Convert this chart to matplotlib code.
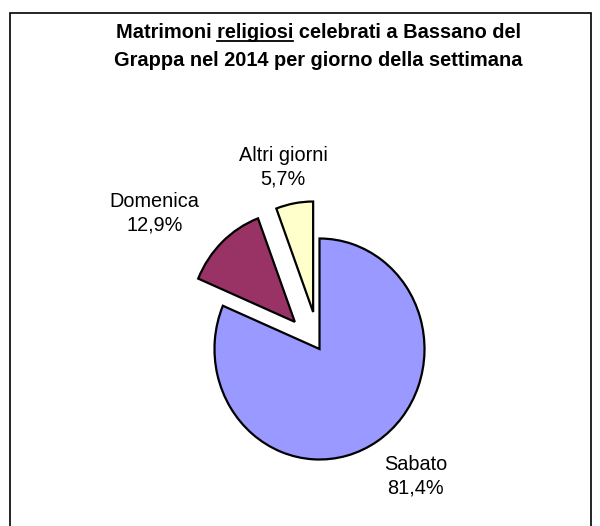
import matplotlib
matplotlib.use("Agg")
import matplotlib.pyplot as plt
from matplotlib.patches import Rectangle
from matplotlib.lines import Line2D
import numpy as np

plt.rcParams['font.family'] = ['Liberation Sans', 'DejaVu Sans']

# dati
giorni = ['Sabato', 'Domenica', 'Altri giorni']
quote = [81.4, 12.9, 5.7]
etichette_pct = ['81,4%', '12,9%', '5,7%']
colori = ['#9999FF', '#993366', '#FFFFCC']

titolo_1 = 'Matrimoni religiosi celebrati a Bassano del'
titolo_2 = 'Grappa nel 2014 per giorno della settimana'
sottolineato = 'religiosi'

# stile / layout
esplodi = [0, 0.34, 0.34]
dist_lab = [1.47, 1.66, 1.34]
shift_lab = [5, 10, 2]
fs_tit = 14.4
fs_lab = 14.3

W, H = 600, 526
fig = plt.figure(figsize=(W / 100, H / 100), dpi=100)
ax = fig.add_axes([0, 0, 1, 1])

cx, cy = 319.5, 349
rx, ry = 105, 110.5

wedges, _ = ax.pie(quote, colors=colori, explode=esplodi, startangle=90,
                   counterclock=False,
                   wedgeprops=dict(edgecolor='black', linewidth=1.6))
ax.set_aspect('auto')
ax.set_xlim(-cx / rx, (W - cx) / rx)
ax.set_ylim(-(H - cy) / ry, cy / ry)
ax.axis('off')

for w, g, p, d, s in zip(wedges, giorni, etichette_pct, dist_lab, shift_lab):
    ang = np.deg2rad((w.theta1 + w.theta2) / 2 + s)
    x = w.center[0] + d * np.cos(ang)
    y = w.center[1] + d * np.sin(ang)
    ax.text(x, y, g + '\n' + p, ha='center', va='center', fontsize=fs_lab,
            linespacing=1.3)

# titolo
t1 = fig.text(318 / W, 1 - 32.5 / H, titolo_1, ha='center', va='center',
              fontsize=fs_tit, fontweight='bold')
fig.text(318 / W, 1 - 60.5 / H, titolo_2, ha='center', va='center',
         fontsize=fs_tit, fontweight='bold')

# sottolineatura di "religiosi"
fig.canvas.draw()
r = fig.canvas.get_renderer()
bb = t1.get_window_extent(r)
def larghezza(s):
    t = fig.text(0, 0, s, fontsize=fs_tit, fontweight='bold')
    w = t.get_window_extent(r).width
    t.remove()
    return w
i = titolo_1.index(sottolineato)
x_fine = bb.x0 + larghezza(titolo_1[:i + len(sottolineato)])
x_ini = x_fine - larghezza(sottolineato)
y_ul = bb.y0 + 1.5
fig.add_artist(Line2D([x_ini / W, x_fine / W], [y_ul / H, y_ul / H],
                      transform=fig.transFigure, color='black', lw=1.3))

# cornice
fig.add_artist(Rectangle((10 / W, -0.01), 581 / W, 1.01 - 13 / H,
                         transform=fig.transFigure, fill=False,
                         edgecolor='black', lw=1.2))

fig.savefig('out.png', dpi=100)
